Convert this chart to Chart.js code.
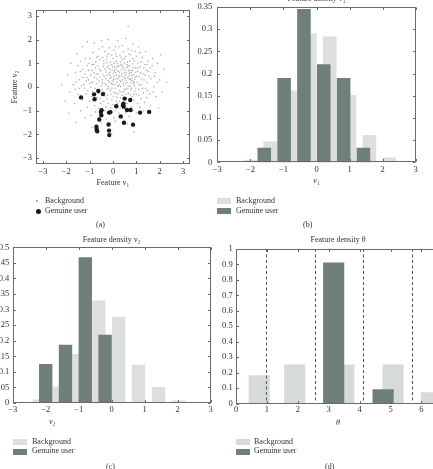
<!DOCTYPE html>
<html><head><meta charset="utf-8">
<script src="https://cdn.jsdelivr.net/npm/chart.js@4/dist/chart.umd.min.js"></script>
<style>
html,body{margin:0;padding:0;background:#fff;width:433px;height:469px;overflow:hidden;position:relative;font-family:"Liberation Serif",serif;color:#333}
canvas{position:absolute}
.t{position:absolute;font-size:8px;white-space:nowrap;line-height:8px}
.sw{position:absolute;width:14px;height:6px}
.dot{position:absolute;border-radius:50%}
</style></head><body>
<canvas id="ca" width="200" height="192" style="left:0;top:0"></canvas>
<canvas id="cb" width="243" height="200" style="left:190px;top:-12px"></canvas>
<canvas id="cc" width="240" height="190" style="left:-20px;top:228px"></canvas>
<canvas id="cd" width="240" height="202" style="left:210px;top:228px"></canvas>

<!-- legends & captions -->
<div class="dot" style="left:36px;top:200px;width:2px;height:2px;background:#999"></div>
<div class="t" style="left:45px;top:197px">Background</div>
<div class="dot" style="left:35.5px;top:208.5px;width:5px;height:5px;background:#1a1a1a"></div>
<div class="t" style="left:45px;top:207px">Genuine user</div>
<div class="t" style="left:96px;top:221px">(a)</div>

<div class="sw" style="left:217px;top:198px;background:#dcdfdd"></div>
<div class="t" style="left:236px;top:197px">Background</div>
<div class="sw" style="left:217px;top:208px;background:#6f7f7a"></div>
<div class="t" style="left:236px;top:207px">Genuine user</div>
<div class="t" style="left:303px;top:221px">(b)</div>

<div class="t" style="left:49px;top:418px;font-style:italic">v₂</div>
<div class="sw" style="left:13px;top:439px;background:#dcdfdd"></div>
<div class="t" style="left:32px;top:438px">Background</div>
<div class="sw" style="left:13px;top:449px;background:#6f7f7a"></div>
<div class="t" style="left:32px;top:447px">Genuine user</div>
<div class="t" style="left:106px;top:463px">(c)</div>

<div class="sw" style="left:236px;top:439px;background:#d6dbd8"></div>
<div class="t" style="left:254px;top:438px">Background</div>
<div class="sw" style="left:236px;top:449px;background:#6f7f7a"></div>
<div class="t" style="left:254px;top:447px">Genuine user</div>
<div class="t" style="left:325px;top:463px">(d)</div>

<script>
// ---------- data ----------
const vTicks = [-3, -2, -1, 0, 1, 2, 3];
const thetaTicks = [0, 1, 2, 3, 4, 5, 6];
const densityTicksV1 = [0, 0.05, 0.1, 0.15, 0.2, 0.25, 0.3, 0.35];
const densityTicksV2 = [0, 0.05, 0.1, 0.15, 0.2, 0.25, 0.3, 0.35, 0.4, 0.45, 0.5];
const densityTicksTheta = [0, 0.1, 0.2, 0.3, 0.4, 0.5, 0.6, 0.7, 0.8, 0.9, 1];

// (a) feature scatter (v1, v2)
const genuineV1 = [-1.37,-0.81,-0.63,-0.43,-0.79,-0.49,-0.52,-0.50,-0.11,-0.17,-0.59,-0.19,-0.71,-0.70,-0.68,-0.17,-0.16,0.14,0.50,0.74,0.45,0.43,0.46,0.60,0.75,0.33,1.16,1.55,0.47,0.86];
const genuineV2 = [-0.44,-0.31,-0.17,-0.30,-0.52,-0.98,-1.06,-1.19,-1.06,-1.08,-1.37,-1.58,-1.68,-1.79,-1.87,-1.84,-2.03,-0.81,-0.49,-0.55,-0.70,-0.77,-0.83,-0.97,-0.97,-1.24,-1.08,-1.05,-1.51,-1.59];
const backgroundPts = [
[-0.55,0.42],[-0.48,-0.12],[-0.41,0.87],[-0.37,0.15],[-0.33,-0.38],[-0.29,0.63],[-0.26,1.02],[-0.22,0.28],[-0.18,-0.05],[-0.15,0.76],
[-0.12,0.49],[-0.09,-0.31],[-0.06,0.95],[-0.03,0.12],[0.01,0.58],[0.04,-0.22],[0.07,0.83],[0.10,0.34],[0.13,1.08],[0.16,-0.44],
[0.19,0.05],[0.22,0.67],[0.25,0.41],[0.28,-0.15],[0.31,0.92],[0.34,0.22],[0.37,0.55],[0.40,-0.36],[0.43,0.78],[0.46,0.08],
[0.49,1.00],[0.52,0.37],[0.55,-0.09],[0.58,0.62],[0.61,0.19],[0.64,0.88],[0.67,-0.27],[0.70,0.45],[0.73,0.03],[0.76,0.71],
[0.79,0.29],[0.82,-0.41],[0.85,0.97],[0.88,0.14],[0.91,0.52],[0.94,-0.18],[0.97,0.80],[-0.50,0.05],[-0.44,0.53],[-0.35,-0.25],
[-0.31,0.35],[-0.24,0.82],[-0.20,0.02],[-0.14,0.38],[-0.10,-0.15],[-0.04,0.70],[0.00,0.25],[0.05,1.00],[0.09,-0.05],[0.12,0.60],
[0.17,0.20],[0.21,-0.28],[0.24,0.88],[0.29,0.48],[0.33,0.02],[0.36,0.72],[0.41,0.30],[0.45,-0.20],[0.50,0.60],[0.54,0.15],
[0.59,0.95],[0.63,-0.05],[0.68,0.35],[0.72,0.62],[0.77,-0.12],[0.81,0.50],[0.86,0.25],[0.92,0.05],[0.96,0.42],[-0.58,0.75],
[-0.46,0.30],[-0.39,0.98],[-0.27,-0.10],[-0.17,0.55],[-0.07,0.15],[0.03,0.45],[0.14,0.75],[0.26,0.10],[0.38,0.95],[0.47,0.40],
[0.57,-0.30],[0.66,0.70],[0.75,0.18],[0.84,0.68],[0.93,0.33],[0.02,-0.40],[0.18,0.98],[0.32,-0.45],[0.62,1.05],[-0.12,1.05],
[-1.25,0.10],[-1.20,0.55],[-1.15,-0.30],[-1.10,0.90],[-1.05,0.30],[-1.00,-0.60],[-0.98,1.20],[-0.95,0.00],[-0.90,0.70],[-0.88,-0.20],
[-0.85,1.45],[-0.80,0.40],[-0.78,-0.80],[-0.74,1.05],[-0.70,0.15],[-0.68,-0.45],[-0.65,1.30],[-0.62,-0.90],[-0.60,1.60],[-0.52,-0.70],
[-0.45,1.25],[-0.40,-0.60],[-0.35,1.50],[-0.30,-0.85],[-0.25,1.30],[-0.20,-0.70],[-0.15,1.65],[-0.10,-0.90],[-0.05,1.35],[0.00,-0.75],
[0.05,1.55],[0.10,-1.00],[0.15,1.30],[0.20,-0.70],[0.25,1.70],[0.30,-0.90],[0.35,1.25],[0.40,-0.65],[0.45,1.50],[0.50,-0.95],
[0.55,1.30],[0.60,-0.70],[0.65,1.60],[0.70,-0.60],[0.75,1.35],[0.80,-0.85],[0.85,1.20],[0.90,-0.55],[0.95,1.50],[1.00,-0.30],
[1.03,0.20],[1.05,0.65],[1.08,1.00],[1.10,-0.10],[1.13,0.45],[1.16,0.85],[1.20,-0.50],[1.22,0.10],[1.25,1.25],[1.28,0.55],
[1.30,-0.25],[1.33,0.30],[1.36,0.95],[1.40,-0.05],[1.43,0.70],[1.46,0.20],[1.50,1.10],[1.55,0.45],[1.58,-0.30],[1.60,0.80],
[1.05,-0.70],[1.15,1.45],[1.35,-0.65],[-1.30,0.75],[-1.22,-0.05],[-1.12,0.40],[-1.02,1.00],[-0.92,-0.40],[-0.83,0.95],[-0.72,0.55],
[-0.66,-0.15],[-0.57,1.15],[-0.28,1.15],[0.12,1.40],[0.42,1.15],[0.72,1.10],[1.00,1.30],[-0.93,0.20],[0.28,-0.60],[-0.55,-0.50],
[0.58,-0.50],[0.88,-0.30],[-0.05,-0.55],
[-1.95,0.50],[-1.85,-0.20],[-1.80,1.00],[-1.70,0.10],[-1.65,-0.70],[-1.60,0.60],[-1.55,1.40],[-1.50,-0.30],[-1.45,0.30],[-1.40,1.10],
[-1.38,-1.00],[-1.30,1.70],[-1.20,-1.30],[-1.10,1.90],[-0.95,-1.20],[-0.80,1.85],[-0.60,-1.30],[-0.50,1.95],[-0.30,-1.35],[-0.20,2.00],
[0.10,-1.45],[0.20,1.95],[0.40,-1.30],[0.55,2.05],[0.70,-1.25],[0.85,1.80],[1.00,-1.10],[1.10,1.70],[1.30,-1.00],[1.40,1.50],
[1.60,-0.80],[1.70,1.20],[1.75,0.00],[1.80,0.60],[1.85,-0.40],[1.90,1.00],[2.00,0.30],[2.10,-0.20],[2.20,0.75],[2.30,0.20],
[-2.05,-0.60],[-1.90,-1.10],[1.95,-0.90],[0.65,2.55],[-0.05,-1.95],[-0.90,-1.70],[0.90,-1.90],[-1.60,-1.50],[2.05,1.35],[-2.20,0.10],
[-0.52,0.68],[-0.47,0.18],[-0.42,-0.20],[-0.38,0.45],[-0.34,0.75],[-0.30,0.10],[-0.26,0.50],[-0.23,-0.35],[-0.19,0.90],[-0.16,0.20],
[-0.13,0.62],[-0.08,0.40],[-0.05,-0.05],[-0.02,0.85],[0.02,0.32],[0.06,0.68],[0.08,0.10],[0.11,-0.25],[0.15,0.50],[0.18,0.85],
[0.20,0.35],[0.23,0.02],[0.27,0.62],[0.30,0.28],[0.32,1.05],[0.35,-0.20],[0.39,0.45],[0.42,0.85],[0.44,0.18],[0.48,-0.10],
[0.51,0.72],[0.53,0.50],[0.56,0.28],[0.60,0.82],[0.62,0.40],[0.65,0.05],[0.69,0.55],[0.71,0.90],[0.74,0.32],[0.78,0.60],
[0.80,-0.05],[0.83,0.38],[0.87,0.82],[0.90,0.20],[0.95,0.62],[0.98,-0.05],[-0.60,0.25],[-0.63,0.55],[-0.65,0.90],[-0.70,0.35],
[-0.75,0.80],[-0.77,-0.05],[-0.82,0.60],[-0.86,0.20],[-0.90,0.95],[-0.95,0.50],[-1.00,0.15],[-1.05,0.70],[-1.08,-0.15],[-1.15,0.25],
[-1.18,1.20],[-1.28,0.40],[-1.35,0.05],[-1.40,0.65],[-1.50,0.90],[-1.58,0.20],[-1.62,-0.10],[1.02,0.45],[1.07,0.80],[1.12,0.10],
[1.18,0.60],[1.20,1.05],[1.24,0.35],[1.27,-0.05],[1.32,0.80],[1.38,0.50],[1.45,0.95],[1.48,-0.15],[1.52,0.65],[1.62,0.35],
[1.68,0.90],[1.72,-0.20],[1.78,0.45],[1.90,0.20],[0.00,1.20],[0.30,1.35],[0.50,1.20],[0.68,1.40],[0.90,1.10],[-0.20,1.40],
[-0.40,1.10],[-0.70,1.25],[0.10,1.70],[0.40,1.75],[-0.45,1.70],[0.80,1.55],[0.25,-1.10],[-0.15,-1.15],[0.55,-1.10],[-0.35,-1.00],
[0.85,-1.00],[-0.75,-1.05],[1.15,-0.85],[0.05,-1.30],[-0.50,-1.50],[0.60,-1.55],[-1.10,-0.85],[1.45,-0.45],[-1.30,-0.55],[-1.45,-0.05],
[0.15,-0.60],[0.45,-0.75],[-0.25,-0.50],[0.75,-0.35],[-0.60,-0.25],[1.10,-0.35]
];

// (b) density of v1
const v1BinsBackground = [-2.0, -1.4, -0.8, -0.2, 0.4, 1.0, 1.6, 2.2];
const v1DensityBackground = [0.005, 0.046, 0.161, 0.290, 0.283, 0.151, 0.061, 0.010];
const v1BinsGenuine = [-1.58, -0.98, -0.38, 0.22, 0.82, 1.42];
const v1DensityGenuine = [0.032, 0.189, 0.345, 0.220, 0.189, 0.032];

// (c) density of v2
const v2BinsBackground = [-2.19, -1.59, -0.99, -0.39, 0.21, 0.81, 1.42, 2.03];
const v2DensityBackground = [0.010, 0.052, 0.156, 0.328, 0.276, 0.122, 0.050, 0.007];
const v2BinsGenuine = [-2.0, -1.4, -0.8, -0.2];
const v2DensityGenuine = [0.124, 0.186, 0.467, 0.218];

// (d) density of theta
const thetaBinsBackground = [0.75, 1.90, 3.49, 5.08, 6.32];
const thetaDensityBackground = [0.18, 0.25, 0.25, 0.25, 0.07];
const thetaBinsGenuine = [3.16, 4.76];
const thetaDensityGenuine = [0.91, 0.09];
const thetaBoundaries = [0.97, 2.54, 4.12, 5.70];

// ---------- styling ----------
const DARK = '#6f7f7a';
const LIGHT = '#dcdfdd';
const LIGHT_D = '#d6dbd8';
const SERIF = '"Liberation Serif", "Times New Roman", serif';
Chart.defaults.font.family = SERIF;
Chart.defaults.color = '#333';

const xy = (xs, ys) => xs.map((x, i) => ({x, y: ys[i]}));
const fmt = v => { const n = +(+v).toFixed(2); return (n < 0 ? '\u2212' : '') + Math.abs(n); };

const framePlugin = {
  id: 'frame',
  afterDatasetsDraw(chart) {
    const {ctx, chartArea: a, scales} = chart;
    const o = chart.options.plugins.frame || {};
    ctx.save();
    if (o.vlines) {
      ctx.strokeStyle = '#555'; ctx.lineWidth = 1; ctx.setLineDash([3, 2.5]);
      o.vlines.forEach(v => {
        const p = Math.round(scales.x.getPixelForValue(v)) + 0.5;
        ctx.beginPath(); ctx.moveTo(p, a.top); ctx.lineTo(p, a.bottom); ctx.stroke();
      });
      ctx.setLineDash([]);
    }
    ctx.strokeStyle = '#6a6a6a'; ctx.lineWidth = 1;
    const L = Math.round(a.left) + 0.5, R = Math.round(a.right) - 0.5,
          T = Math.round(a.top) + 0.5, B = Math.round(a.bottom) - 0.5;
    ctx.strokeRect(L, T, R - L, B - T);
    const k = 2.5;
    ctx.beginPath();
    scales.x.ticks.forEach(t => {
      const p = Math.round(scales.x.getPixelForValue(t.value)) + 0.5;
      ctx.moveTo(p, B); ctx.lineTo(p, B - k); ctx.moveTo(p, T); ctx.lineTo(p, T + k);
    });
    scales.y.ticks.forEach(t => {
      const p = Math.round(scales.y.getPixelForValue(t.value)) + 0.5;
      ctx.moveTo(L, p); ctx.lineTo(L + k, p); ctx.moveTo(R, p); ctx.lineTo(R - k, p);
    });
    ctx.stroke();
    ctx.restore();
  }
};

function opts(p) {
  return {
    responsive: false, animation: false, devicePixelRatio: 1, events: [],
    layout: {padding: p.padding},
    plugins: {
      legend: {display: false}, tooltip: {enabled: false},
      title: p.title ? {display: true, text: p.title, fullSize: false,
        font: {size: 8, weight: 'normal', family: SERIF}, color: '#333',
        padding: p.titlePad} : {display: false},
      frame: {vlines: p.vlines}
    },
    scales: {
      x: {
        type: 'linear', min: p.xMin, max: p.xMax, offset: false,
        grid: {display: false, drawTicks: false}, border: {display: false},
        afterBuildTicks: s => { s.ticks = p.xTicks.map(v => ({value: v})); },
        afterFit: s => { s.height = p.xH; },
        ticks: {font: {size: 8.5}, padding: p.xTickPad, maxRotation: 0, callback: fmt, color: '#333'},
        title: p.xTitle ? {display: true, text: p.xTitle, font: {size: 8, style: p.xItalic ? 'italic' : 'normal'},
          padding: {top: 0, bottom: p.xTitlePad}, color: '#333'} : {display: false}
      },
      y: {
        type: 'linear', min: p.yMin, max: p.yMax,
        grid: {display: false, drawTicks: false}, border: {display: false},
        afterBuildTicks: s => { s.ticks = p.yTicks.map(v => ({value: v})); },
        afterFit: s => { s.width = p.yW; },
        ticks: {font: {size: 8.5}, padding: p.yTickPad, callback: fmt, color: '#333'},
        title: p.yTitle ? {display: true, text: p.yTitle, font: {size: 8},
          padding: {top: p.yTitlePad, bottom: 0}, color: '#333'} : {display: false}
      }
    }
  };
}

// (a) scatter
new Chart(document.getElementById('ca'), {
  type: 'scatter',
  data: {datasets: [
    {label: 'Genuine user', data: xy(genuineV1, genuineV2), pointRadius: 2.2, pointBackgroundColor: '#1a1a1a', pointBorderWidth: 0, order: 1},
    {label: 'Background', data: backgroundPts.map(p => ({x: p[0], y: p[1]})), pointRadius: 0.8, pointBackgroundColor: '#b0b0b0', pointBorderWidth: 0, order: 2}
  ]},
  options: opts({padding: {left: 0, top: 10, right: 10, bottom: 0}, yW: 36, xH: 28,
    xMin: -3.3, xMax: 3.3, yMin: -3.25, yMax: 3.25, xTicks: vTicks, yTicks: vTicks,
    xTickPad: 3, yTickPad: 4, xTitle: 'Feature v\u2081', xTitlePad: 4.5, yTitle: 'Feature v\u2082', yTitlePad: 10}),
  plugins: [framePlugin]
});

function barSets(bx, by, gx, gy, w, light) {
  return [
    {label: 'Background', data: xy(bx, by), backgroundColor: light, borderWidth: 0, grouped: false, barThickness: w, order: 2},
    {label: 'Genuine user', data: xy(gx, gy), backgroundColor: DARK, borderWidth: 0, grouped: false, barThickness: w, order: 1}
  ];
}

// (b)
new Chart(document.getElementById('cb'), {
  type: 'bar',
  data: {datasets: barSets(v1BinsBackground, v1DensityBackground, v1BinsGenuine, v1DensityGenuine, 12.9, LIGHT)},
  options: opts({padding: {left: 0, top: 0, right: 17.3, bottom: 0}, yW: 27.3, xH: 25.7,
    xMin: -3, xMax: 3, yMin: 0, yMax: 0.35, xTicks: vTicks, yTicks: densityTicksV1,
    xTickPad: 2, yTickPad: 5, xTitle: 'v\u2081', xItalic: true, xTitlePad: 2.5,
    title: 'Feature density v\u2081', titlePad: {top: 6.2, bottom: 3.2}}),
  plugins: [framePlugin]
});

// (c)
new Chart(document.getElementById('cc'), {
  type: 'bar',
  data: {datasets: barSets(v2BinsBackground, v2DensityBackground, v2BinsGenuine, v2DensityGenuine, 12.7, LIGHT)},
  options: opts({padding: {left: 0, top: 0, right: 9.3, bottom: 0}, yW: 32.7, xH: 15,
    xMin: -3, xMax: 3, yMin: 0, yMax: 0.5, xTicks: vTicks, yTicks: densityTicksV2,
    xTickPad: 1.5, yTickPad: 3.4,
    title: 'Feature density v\u2082', titlePad: {top: 7.2, bottom: 2.5}}),
  plugins: [framePlugin]
});

// (d)
new Chart(document.getElementById('cd'), {
  type: 'bar',
  data: {datasets: barSets(thetaBinsBackground, thetaDensityBackground, thetaBinsGenuine, thetaDensityGenuine, 20.5, LIGHT_D)},
  options: opts({padding: {left: 0, top: 0, right: 10, bottom: 0}, yW: 26, xH: 26.5,
    xMin: 0, xMax: 6.6, yMin: 0, yMax: 1, xTicks: thetaTicks, yTicks: densityTicksTheta,
    xTickPad: 1, yTickPad: 3.3, xTitle: '\u03b8', xItalic: true, xTitlePad: 2.8,
    title: 'Feature density \u03b8', titlePad: {top: 7.2, bottom: 4.2}, vlines: thetaBoundaries}),
  plugins: [framePlugin]
});
</script>
</body></html>
